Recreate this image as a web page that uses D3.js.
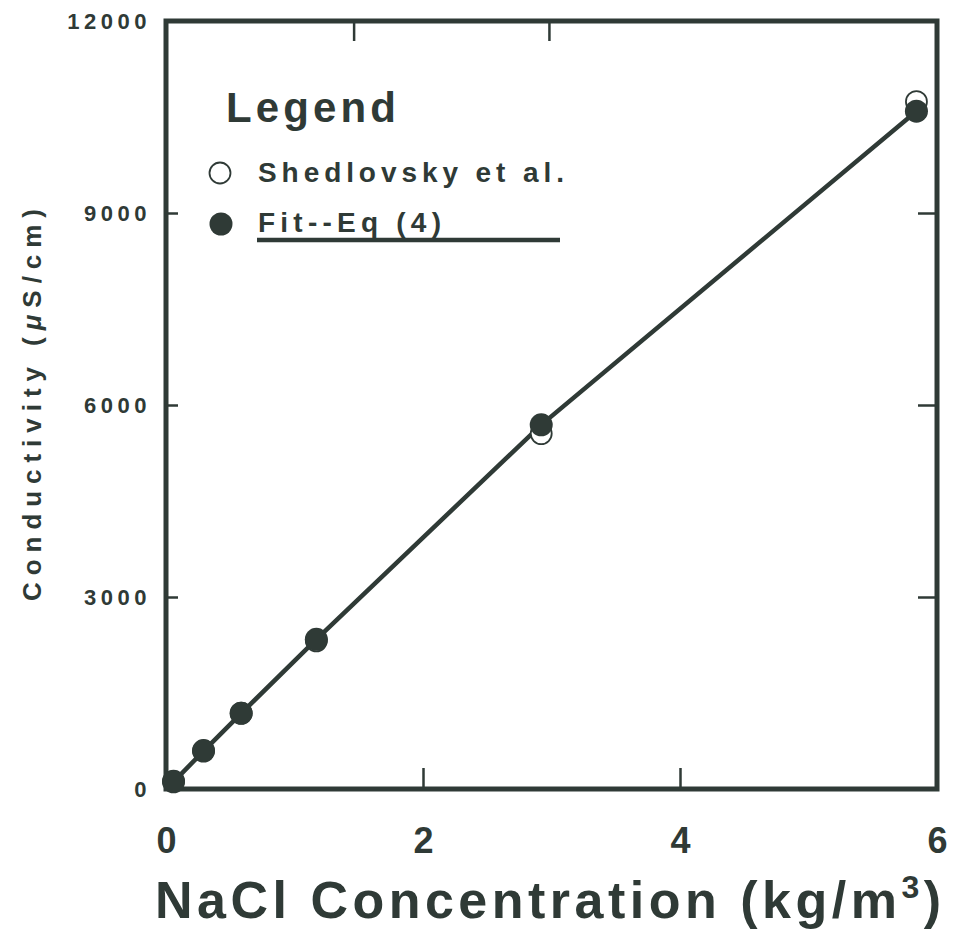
<!DOCTYPE html>
<html>
<head>
<meta charset="utf-8">
<script src="https://cdn.jsdelivr.net/npm/d3@7"></script>
<style>
  body { margin: 0; background: #fff; }
  text { font-family: "Liberation Sans", Arial, sans-serif; font-weight: bold; fill: #2f3a36; }
</style>
</head>
<body>
<svg id="chart" width="956" height="942"></svg>
<script>
// NaCl concentration (kg/m3)
var conc = [0.0585, 0.292, 0.585, 1.17, 2.92, 5.84];
// measured conductivity, Shedlovsky et al. (uS/cm)
var shedlovsky = [124, 602, 1185, 2315, 5553, 10740];
// fitted values, Eq (4)
var fitVals = [112, 592, 1182, 2338, 5690, 10590];

var xTicks = [0, 2, 4, 6];
var yTicks = [0, 3000, 6000, 9000, 12000];
var topTicks = [1.46, 2.98];

function drawConductivityChart(){

	var ink = '#2f3a36';

	var svg = d3.select('#chart');

	var pLeft = 166, pRight = 937, pTop = 21, pBottom = 789;

	var x = d3.scaleLinear().domain([0, 6]).range([pLeft, pRight]);
	var y = d3.scaleLinear().domain([0, 12000]).range([pBottom, pTop]);

	// left axis with labels
	var yAxis = svg.append('g')
		.attr('transform', 'translate(' + pLeft + ',0)')
		.call(d3.axisLeft(y).tickValues(yTicks).tickSize(-12).tickPadding(15).tickFormat(d3.format('d')));
	yAxis.selectAll('text')
		.style('font-size', '22px')
		.style('letter-spacing', '4.5px');

	// right axis, ticks only
	svg.append('g')
		.attr('transform', 'translate(' + pRight + ',0)')
		.call(d3.axisRight(y).tickValues([3000, 6000, 9000]).tickSize(-19).tickFormat(''));

	// bottom axis
	var xAxis = svg.append('g')
		.attr('transform', 'translate(0,' + pBottom + ')')
		.call(d3.axisBottom(x).tickValues(xTicks).tickSize(-21).tickPadding(38).tickFormat(d3.format('d')));
	xAxis.selectAll('text').style('font-size', '36px');
	xAxis.selectAll('.tick line').filter(d => d === 0 || d === 6).remove();

	// top axis, ticks only
	svg.append('g')
		.attr('transform', 'translate(0,' + pTop + ')')
		.call(d3.axisTop(x).tickValues(topTicks).tickSize(-20).tickFormat(''));

	svg.selectAll('.domain').remove();
	svg.selectAll('.tick line').attr('stroke', ink).attr('stroke-width', 2.5);

	// frame
	svg.append('rect')
		.attr('x', pLeft).attr('y', pTop)
		.attr('width', pRight - pLeft).attr('height', pBottom - pTop)
		.attr('fill', 'none')
		.attr('stroke', ink)
		.attr('stroke-width', 5);

	// fit line
	var line = d3.line()
		.x((d, i) => x(conc[i]))
		.y(d => y(d));

	svg.append('path')
		.datum(fitVals)
		.attr('d', line)
		.attr('fill', 'none')
		.attr('stroke', ink)
		.attr('stroke-width', 4.5);

	// measured points (open)
	svg.append('g').selectAll('circle')
		.data(shedlovsky)
		.enter()
		.append('circle')
			.attr('cx', (d, i) => x(conc[i]))
			.attr('cy', d => y(d))
			.attr('r', 10.5)
			.attr('fill', '#fff')
			.attr('stroke', ink)
			.attr('stroke-width', 1.8);

	// fit points (filled)
	svg.append('g').selectAll('circle')
		.data(fitVals)
		.enter()
		.append('circle')
			.attr('cx', (d, i) => x(conc[i]))
			.attr('cy', d => y(d))
			.attr('r', 11.5)
			.attr('fill', ink);

	// legend
	var legend = svg.append('g');
	legend.append('text')
		.attr('x', 226).attr('y', 122)
		.style('font-size', '42px')
		.attr('textLength', 170)
		.text('Legend');

	legend.append('circle')
		.attr('cx', 220).attr('cy', 173).attr('r', 10.5)
		.attr('fill', '#fff').attr('stroke', ink).attr('stroke-width', 1.8);
	legend.append('text')
		.attr('x', 258).attr('y', 182)
		.style('font-size', '28px')
		.attr('textLength', 306)
		.text('Shedlovsky et al.');

	legend.append('circle')
		.attr('cx', 221).attr('cy', 224).attr('r', 11.5)
		.attr('fill', ink);
	legend.append('text')
		.attr('x', 258).attr('y', 232)
		.style('font-size', '28px')
		.attr('textLength', 183)
		.text('Fit--Eq (4)');
	legend.append('line')
		.attr('x1', 257).attr('x2', 560)
		.attr('y1', 240).attr('y2', 240)
		.attr('stroke', ink).attr('stroke-width', 4.5);

	// x axis title
	var xt = svg.append('text')
		.attr('x', 155).attr('y', 918)
		.style('font-size', '52px')
		.style('font-weight', '600')
		.attr('textLength', 786);
	xt.append('tspan').text('NaCl Concentration (kg/m');
	xt.append('tspan').attr('dy', -20).style('font-size', '32px').text('3');
	xt.append('tspan').attr('dy', 20).text(')');

	// y axis title
	var yt = svg.append('text')
		.attr('transform', 'translate(41,' + 405 + ') rotate(-90)')
		.attr('text-anchor', 'middle')
		.style('font-size', '26px')
		.attr('textLength', 392);
	yt.append('tspan').text('Conductivity (');
	yt.append('tspan').style('font-style', 'italic').text('\u03bc');
	yt.append('tspan').text('S/cm)');
}

drawConductivityChart();
</script>
</body>
</html>
